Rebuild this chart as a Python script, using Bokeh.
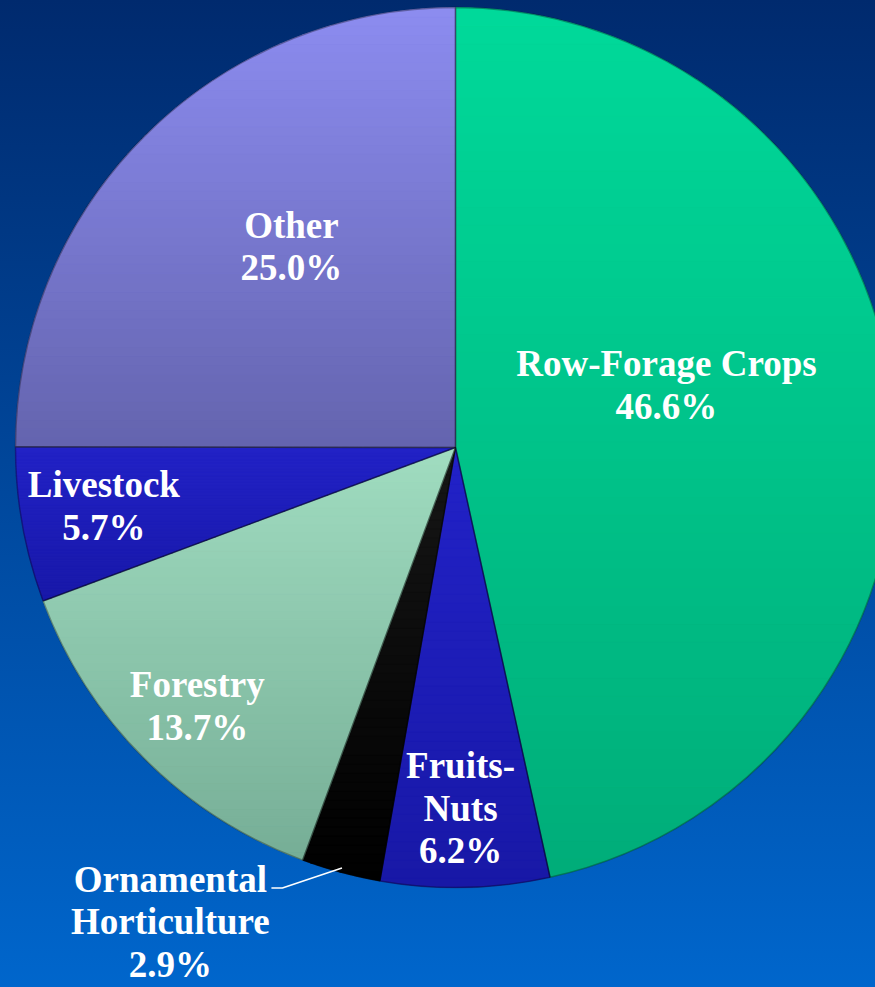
import numpy as np
from bokeh.plotting import figure
from bokeh.models import Range1d, ColumnDataSource
from bokeh.core.properties import value
from bokeh.embed import file_html
from bokeh.resources import INLINE

# ---- data ----
categories = ["Row-Forage Crops", "Fruits-Nuts", "Ornamental Horticulture",
              "Forestry", "Livestock", "Other"]
shares = [46.6, 6.2, 2.9, 13.7, 5.7, 25.0]
label_texts = ["Row-Forage Crops\n46.6%", "Fruits-\nNuts\n6.2%",
               "Ornamental\nHorticulture\n2.9%", "Forestry\n13.7%",
               "Livestock\n5.7%", "Other\n25.0%"]

# ---- styling / layout ----
colors = ["#03c68d", "#1d1db9", "#080808", "#8cc8ae", "#1d1db9", "#7979d6"]
top_colors = ["#00d99a", "#2222c8", "#161616", "#a0dcc0", "#2222c6", "#8c8cf0"]
bot_colors = ["#00ad79", "#1818a6", "#000000", "#76ae96", "#1818a8", "#6464ae"]
W, H = 875, 987
CX, CY, R = 455, 540, 440          # pie centre / radius (data units = px)
# label placement in polar form: (angle clockwise from 12 o'clock in deg, radius fraction)
label_angle = [73.5, 179.2, 211.0, 225.0, 260.6, 320.8]
label_frac = [0.50, 0.82, 1.258, 0.83, 0.81, 0.59]
NBANDS = 48

p = figure(width=W, height=H, output_backend="svg", toolbar_location=None,
           x_range=Range1d(0, W), y_range=Range1d(0, H), min_border=0)
p.axis.visible = False
p.grid.visible = False
p.outline_line_color = None
p.background_fill_alpha = 0
p.border_fill_alpha = 0

# slice geometry (clockwise from 12 o'clock)
tot = sum(shares)
cum = np.concatenate([[0], np.cumsum(shares)]) / tot * 360.0
theta1 = cum[:-1]
theta2 = cum[1:]
src = ColumnDataSource(dict(
    x=[CX] * len(shares), y=[CY] * len(shares),
    start=np.radians(90 - theta2), end=np.radians(90 - theta1),
    color=colors, cat=categories))
p.wedge(x="x", y="y", radius=R, start_angle="start", end_angle="end",
        fill_color="color", line_color=None, source=src)


def hex2rgb(h):
    h = h.lstrip("#")
    return np.array([int(h[k:k + 2], 16) for k in (0, 2, 4)], float)


def clip(poly, y0, keep_above):
    out = []
    n = len(poly)
    for k in range(n):
        P, Q = poly[k], poly[(k + 1) % n]
        inP = P[1] >= y0 if keep_above else P[1] <= y0
        inQ = Q[1] >= y0 if keep_above else Q[1] <= y0
        if inP:
            out.append(P)
        if inP != inQ:
            t = (y0 - P[1]) / (Q[1] - P[1])
            out.append((P[0] + t * (Q[0] - P[0]), y0))
    return out


# vertical gradient shading of each slice (bands clipped to slice outline)
bxs, bys, bcol = [], [], []
for i in range(len(shares)):
    ang = np.radians(np.linspace(theta1[i], theta2[i], 90))
    poly = [(CX, CY)] + [(CX + R * np.sin(a), CY + R * np.cos(a)) for a in ang]
    ys = [q[1] for q in poly]
    ymin, ymax = min(ys), max(ys)
    edges = np.linspace(ymin, ymax, NBANDS + 1)
    ct, cb = hex2rgb(top_colors[i]), hex2rgb(bot_colors[i])
    for b in range(NBANDS):
        pc = clip(clip(poly, edges[b], True), edges[b + 1], False)
        if len(pc) < 3:
            continue
        f = (b + 0.5) / NBANDS          # 0 at bottom, 1 at top
        c = cb * (1 - f) + ct * f
        bxs.append([q[0] for q in pc])
        bys.append([q[1] for q in pc])
        bcol.append("#%02x%02x%02x" % tuple(int(round(v)) for v in c))
p.patches(xs=bxs, ys=bys, fill_color=bcol, line_color=bcol, line_width=0.8)

# slice edges
p.wedge(x="x", y="y", radius=R, start_angle="start", end_angle="end",
        fill_color=None, line_color="#000000", line_alpha=0.3,
        line_width=1.5, source=src)

# labels
la = np.radians(label_angle)
lx = CX + np.array(label_frac) * R * np.sin(la)
ly = CY + np.array(label_frac) * R * np.cos(la)
p.text(x=lx, y=ly, text=label_texts, text_align="center",
       text_baseline="middle", text_color="white",
       text_font=value("Liberation Serif"), text_font_style="bold",
       text_font_size="37px", text_line_height=1.04)

# leader line for the outside label (Ornamental Horticulture)
i = 2
mid = np.radians((theta1[i] + theta2[i]) / 2)
ex, ey = CX + 0.99 * R * np.sin(mid), CY + 0.99 * R * np.cos(mid)
kx, ky = lx[i] + 112, ly[i] + 34
p.line(x=[kx - 11, kx, ex], y=[ky, ky, ey], line_color="white", line_width=1.5)

html = file_html(p, INLINE)
css = ("<style>html{height:100%;}body{min-height:100%;overflow:hidden;"
       "background:linear-gradient(to bottom,#002a6e 0%,#0066cc 100%) fixed;}</style>")
html = html.replace("</head>", css + "</head>", 1)
open("out.html", "w").write(html)
